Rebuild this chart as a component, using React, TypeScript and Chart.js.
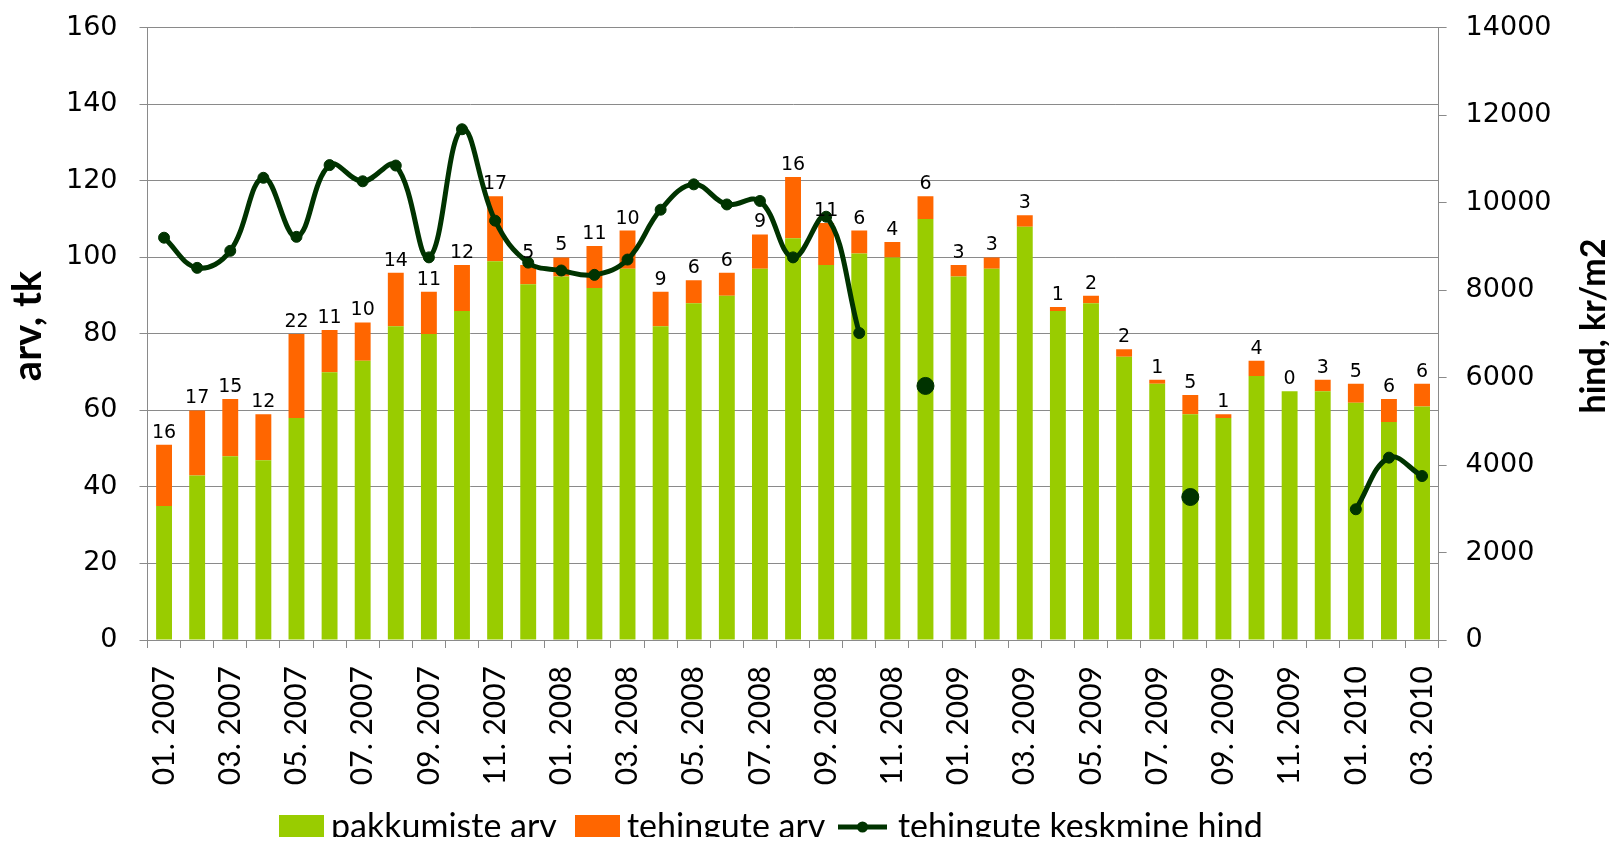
import React, { useEffect, useRef } from "react";
import { Chart, registerables } from "chart.js";

Chart.register(...registerables);

const months = [
  "01. 2007", "02. 2007", "03. 2007", "04. 2007", "05. 2007", "06. 2007",
  "07. 2007", "08. 2007", "09. 2007", "10. 2007", "11. 2007", "12. 2007",
  "01. 2008", "02. 2008", "03. 2008", "04. 2008", "05. 2008", "06. 2008",
  "07. 2008", "08. 2008", "09. 2008", "10. 2008", "11. 2008", "12. 2008",
  "01. 2009", "02. 2009", "03. 2009", "04. 2009", "05. 2009", "06. 2009",
  "07. 2009", "08. 2009", "09. 2009", "10. 2009", "11. 2009", "12. 2009",
  "01. 2010", "02. 2010", "03. 2010",
];

const pakkumisteArv = [
  35, 43, 48, 47, 58, 70, 73, 82, 80, 86, 99, 93,
  95, 92, 97, 82, 88, 90, 97, 105, 98, 101, 100, 110,
  95, 97, 108, 86, 88, 74, 67, 59, 58, 69, 65, 65,
  62, 57, 61,
];

const tehinguteArv = [
  16, 17, 15, 12, 22, 11, 10, 14, 11, 12, 17, 5,
  5, 11, 10, 9, 6, 6, 9, 16, 11, 6, 4, 6,
  3, 3, 3, 1, 2, 2, 1, 5, 1, 4, 0, 3,
  5, 6, 6,
];

const keskmineHind: (number | null)[] = [
  9200, 8510, 8900, 10570, 9220, 10860, 10490, 10850, 8750, 11680, 9590, 8630,
  8450, 8350, 8700, 9840, 10420, 9960, 10040, 8750, 9680, 7020, null, 5810,
  null, null, null, null, null, null, null, 3270, null, null, null, null,
  2990, 4170, 3750,
];

const leftTicks = [0, 20, 40, 60, 80, 100, 120, 140, 160];
const rightTicks = [0, 2000, 4000, 6000, 8000, 10000, 12000, 14000];

const seriesNames = ["pakkumiste arv", "tehingute arv", "tehingute keskmine hind"];
const leftTitle = "arv, tk";
const rightTitle = "hind, kr/m2";

const GREEN = "#99CC00";
const ORANGE = "#FF6600";
const DARK = "#003300";
const GRID = "#8a8a8a";

const W = 1617;
const H = 845;
const AREA = { left: 147.5, right: 1438.6, top: 27.8, bottom: 640 };

const extrasPlugin = {
  id: "extras",
  afterDatasetsDraw(chart: any) {
    const ctx = chart.ctx;
    const meta = chart.getDatasetMeta(2);
    ctx.save();
    ctx.font = "19px 'DejaVu Sans'";
    ctx.fillStyle = "#000";
    ctx.textAlign = "center";
    ctx.textBaseline = "alphabetic";
    meta.data.forEach((el: any, i: number) => {
      ctx.fillText(String(tehinguteArv[i]), el.x, el.y - 7);
    });
    ctx.restore();
  },
  afterDraw(chart: any) {
    const ctx = chart.ctx;
    ctx.save();
    // axis titles
    ctx.fillStyle = "#000";
    ctx.textAlign = "center";
    ctx.textBaseline = "middle";
    ctx.save();
    ctx.font = "bold 40px Lato";
    ctx.translate(28, 326);
    ctx.rotate(-Math.PI / 2);
    ctx.fillText(leftTitle, 0, 0);
    ctx.restore();
    ctx.save();
    ctx.font = "bold 34px Lato";
    ctx.translate(1594, 326);
    ctx.rotate(-Math.PI / 2);
    ctx.fillText(rightTitle, 0, 0);
    ctx.restore();

    // legend
    const base = 838;
    const cy = 827;
    ctx.font = "34px Lato";
    ctx.textAlign = "left";
    ctx.textBaseline = "alphabetic";
    ctx.fillStyle = GREEN;
    ctx.fillRect(279, 815, 45, 24);
    ctx.fillStyle = "#000";
    ctx.fillText(seriesNames[0], 331, base);
    ctx.fillStyle = ORANGE;
    ctx.fillRect(575, 815, 45, 24);
    ctx.fillStyle = "#000";
    ctx.fillText(seriesNames[1], 627, base);
    ctx.strokeStyle = DARK;
    ctx.lineWidth = 5;
    ctx.beginPath();
    ctx.moveTo(838, cy);
    ctx.lineTo(887, cy);
    ctx.stroke();
    ctx.fillStyle = DARK;
    ctx.beginPath();
    ctx.arc(862.5, cy, 5.5, 0, Math.PI * 2);
    ctx.fill();
    ctx.fillStyle = "#000";
    ctx.fillText(seriesNames[2], 898, base);
    ctx.restore();
  },
};

export default function App() {
  const ref = useRef<HTMLCanvasElement>(null);

  useEffect(() => {
    if (!ref.current) return;
    const isolated = (i: number) =>
      (i === 0 || keskmineHind[i - 1] == null) &&
      (i === keskmineHind.length - 1 || keskmineHind[i + 1] == null);

    const noPad = (s: any) => {
      s.paddingTop = 0;
      s.paddingBottom = 0;
    };

    const chart = new Chart(ref.current, {
      type: "bar",
      data: {
        labels: months,
        datasets: [
          {
            type: "line",
            label: seriesNames[2],
            data: keskmineHind,
            yAxisID: "y1",
            borderColor: DARK,
            backgroundColor: DARK,
            borderWidth: 5,
            pointBackgroundColor: DARK,
            pointBorderColor: DARK,
            pointBorderWidth: 1,
            pointRadius: (c: any) => (isolated(c.dataIndex) ? 8.5 : 5.5),
            tension: 0.4,
            spanGaps: false,
            order: 0,
          } as any,
          {
            type: "bar",
            label: seriesNames[0],
            data: pakkumisteArv,
            backgroundColor: GREEN,
            yAxisID: "y",
            barPercentage: 0.48,
            categoryPercentage: 1,
            order: 1,
          },
          {
            type: "bar",
            label: seriesNames[1],
            data: tehinguteArv,
            backgroundColor: ORANGE,
            yAxisID: "y",
            barPercentage: 0.48,
            categoryPercentage: 1,
            order: 2,
          },
        ],
      },
      options: {
        responsive: false,
        animation: false,
        devicePixelRatio: 1,
        layout: { padding: { top: AREA.top, left: 0, right: 0, bottom: 0 } },
        plugins: {
          legend: { display: false },
          tooltip: { enabled: false },
        },
        scales: {
          x: {
            stacked: true,
            grid: {
              offset: true,
              drawOnChartArea: false,
              drawTicks: true,
              tickLength: 8,
              color: GRID,
            },
            border: { display: true, color: GRID },
            ticks: {
              autoSkip: false,
              maxRotation: 90,
              minRotation: 90,
              padding: 18,
              color: "#000",
              font: { family: "Lato", size: 30 },
              callback: (_v: any, i: number) => (i % 2 === 0 ? months[i] : ""),
            },
            afterFit: (s: any) => {
              s.height = H - AREA.bottom;
              s.paddingLeft = 0;
              s.paddingRight = 0;
            },
          },
          y: {
            type: "linear",
            position: "left",
            stacked: true,
            min: leftTicks[0],
            max: leftTicks[leftTicks.length - 1],
            ticks: {
              stepSize: leftTicks[1] - leftTicks[0],
              padding: 22,
              color: "#000",
              font: { family: "'DejaVu Sans'", size: 27 },
              callback: (v: any) => String(v),
            },
            grid: { color: GRID, tickLength: 8, lineWidth: 1 },
            border: { display: true, color: GRID },
            afterFit: (s: any) => {
              s.width = AREA.left;
              noPad(s);
            },
          },
          y1: {
            type: "linear",
            position: "right",
            min: rightTicks[0],
            max: rightTicks[rightTicks.length - 1],
            ticks: {
              stepSize: rightTicks[1] - rightTicks[0],
              padding: 19,
              color: "#000",
              font: { family: "'DejaVu Sans'", size: 27 },
              callback: (v: any) => String(v),
            },
            grid: { drawOnChartArea: false, color: GRID, tickLength: 8 },
            border: { display: true, color: GRID },
            afterFit: (s: any) => {
              s.width = W - AREA.right;
              noPad(s);
            },
          },
        },
      } as any,
      plugins: [extrasPlugin],
    });
    return () => chart.destroy();
  }, []);

  return (
    <div style={{ width: W, height: H, margin: -8 }}>
      <canvas ref={ref} width={W} height={H} style={{ display: "block" }} />
    </div>
  );
}
